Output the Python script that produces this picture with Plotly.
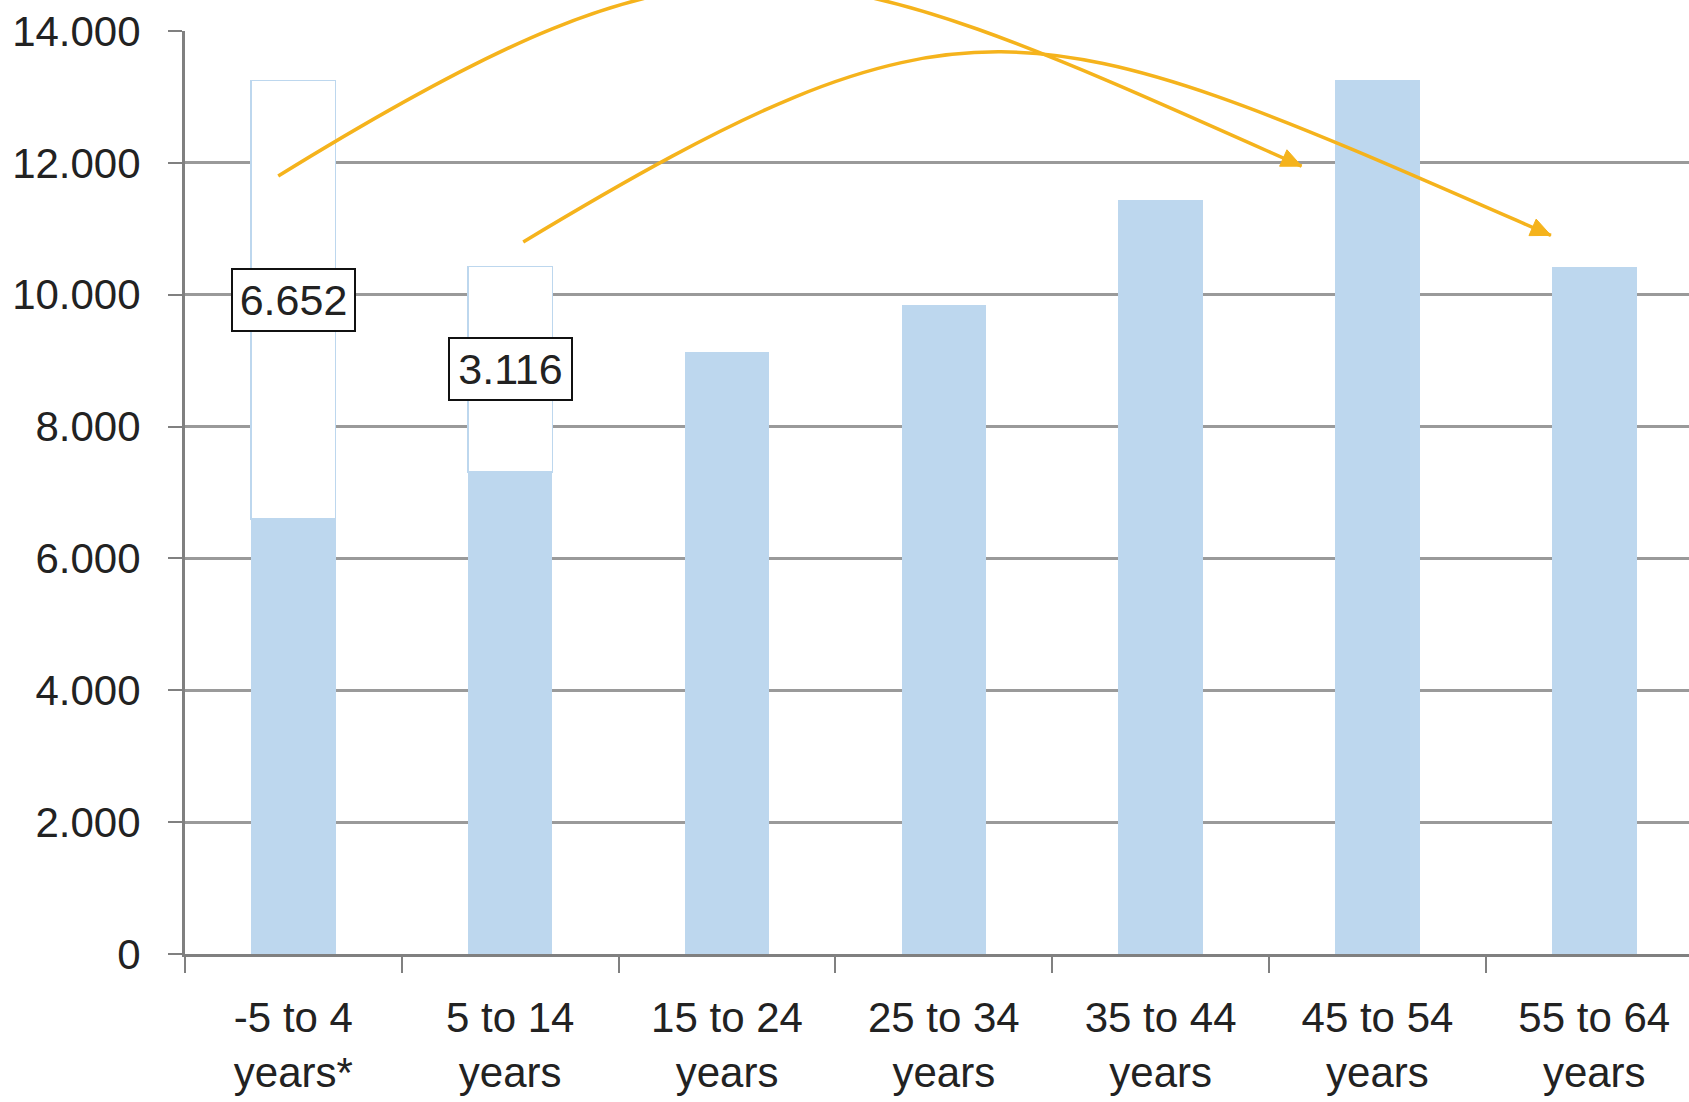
import plotly.graph_objects as go

# Age groups and population counts
categories = [
    "-5 to 4<br>years*", "5 to 14<br>years", "15 to 24<br>years",
    "25 to 34<br>years", "35 to 44<br>years", "45 to 54<br>years",
    "55 to 64<br>years",
]
population = [6598, 7309, 9130, 9850, 11430, 13250, 10425]
# Shortfall of the two youngest cohorts versus the cohort they will replace
cohort_gap = [6652, 3116, None, None, None, None, None]
gap_labels = ["6.652", "3.116"]

y_ticks = [0, 2000, 4000, 6000, 8000, 10000, 12000, 14000]
y_tick_text = ["0", "2.000", "4.000", "6.000", "8.000", "10.000", "12.000", "14.000"]

# Curved cohort arrows: (category position, value) for start, two control points, end
cohort_arrows = [
    [(-0.07, 11800), (2.00, 16000), (2.36, 15300), (4.65, 11950)],
    [(1.06, 10800), (3.13, 14900), (3.40, 14350), (5.80, 10900)],
]

W, H = 1689, 1102
ML, MR, MT, MB = 185, 0, 31, 148
X_RANGE = [-0.5, 6.437]
Y_RANGE = [0, 14000]
PW, PH = W - ML - MR, H - MT - MB

BAR_BLUE = "#BDD7EE"
ARROW = "#F5B31C"
GRID = "#9A9A9A"
AXIS = "#808080"
TEXT = "#222222"
FONT = "Liberation Sans, Arial, sans-serif"


def to_px(c, v):
    x = ML + (c - X_RANGE[0]) / (X_RANGE[1] - X_RANGE[0]) * PW
    y = MT + (1 - (v - Y_RANGE[0]) / (Y_RANGE[1] - Y_RANGE[0])) * PH
    return x, y


def to_paper(x, y):
    return (x - ML) / PW, 1 - (y - MT) / PH


fig = go.Figure()
fig.add_trace(go.Bar(
    x=categories, y=population, marker=dict(color=BAR_BLUE, line=dict(width=0)),
    width=0.39, showlegend=False, hoverinfo="skip",
))
fig.add_trace(go.Bar(
    x=categories, y=cohort_gap,
    marker=dict(color="white", line=dict(color=BAR_BLUE, width=1.5)),
    width=0.39, showlegend=False, hoverinfo="skip",
))

# Boxed labels centred on the gap segments
for i, lab in enumerate(gap_labels):
    fig.add_annotation(
        x=categories[i], y=population[i] + cohort_gap[i] / 2,
        xref="x", yref="y", text=lab, showarrow=False,
        font=dict(family=FONT, size=43, color=TEXT),
        width=121, height=60, align="center", valign="middle",
        bgcolor="white", bordercolor="#111111", borderwidth=2, borderpad=0,
    )

# Arrows drawn in paper space so they can run above the plot area
shapes = []
for pts in cohort_arrows:
    px = [to_px(c, v) for c, v in pts]
    pp = [to_paper(x, y) for x, y in px]
    path = "M {},{} C {},{} {},{} {},{}".format(
        pp[0][0], pp[0][1], pp[1][0], pp[1][1], pp[2][0], pp[2][1], pp[3][0], pp[3][1])
    shapes.append(dict(type="path", xref="paper", yref="paper", path=path,
                       line=dict(color=ARROW, width=3.5), layer="above"))
    # arrowhead along the end tangent
    (ex, ey), (cx, cy) = px[3], px[2]
    dx, dy = ex - cx, ey - cy
    n = (dx * dx + dy * dy) ** 0.5
    dx, dy = dx / n, dy / n
    L, Wd = 20, 9
    bx, by = ex - L * dx, ey - L * dy
    p1 = to_paper(ex, ey)
    p2 = to_paper(bx - Wd * dy, by + Wd * dx)
    p3 = to_paper(bx + Wd * dy, by - Wd * dx)
    tri = "M {},{} L {},{} L {},{} Z".format(p1[0], p1[1], p2[0], p2[1], p3[0], p3[1])
    shapes.append(dict(type="path", xref="paper", yref="paper", path=tri,
                       line=dict(color=ARROW, width=1), fillcolor=ARROW, layer="above"))

fig.update_layout(
    width=W, height=H, margin=dict(l=ML, r=MR, t=MT, b=MB, autoexpand=False),
    paper_bgcolor="white", plot_bgcolor="white",
    barmode="stack", shapes=shapes,
    font=dict(family=FONT, size=42, color=TEXT),
    xaxis=dict(
        type="category", range=X_RANGE, showgrid=False,
        showline=True, linecolor=AXIS, linewidth=3,
        ticks="outside", tickson="boundaries", ticklen=16, tickcolor=AXIS, tickwidth=2,
        tickfont=dict(family=FONT, size=42, color=TEXT), ticklabelstandoff=25,
        fixedrange=True,
    ),
    yaxis=dict(
        range=Y_RANGE, tickvals=y_ticks, ticktext=y_tick_text,
        showgrid=True, gridcolor=GRID, gridwidth=2.5, zeroline=False,
        showline=True, linecolor=AXIS, linewidth=3,
        ticks="outside", ticklen=14, tickcolor=AXIS, tickwidth=2,
        tickfont=dict(family=FONT, size=42, color=TEXT), ticklabelstandoff=19,
        fixedrange=True,
    ),
)

fig.write_html("out.html", config={"displayModeBar": False})
